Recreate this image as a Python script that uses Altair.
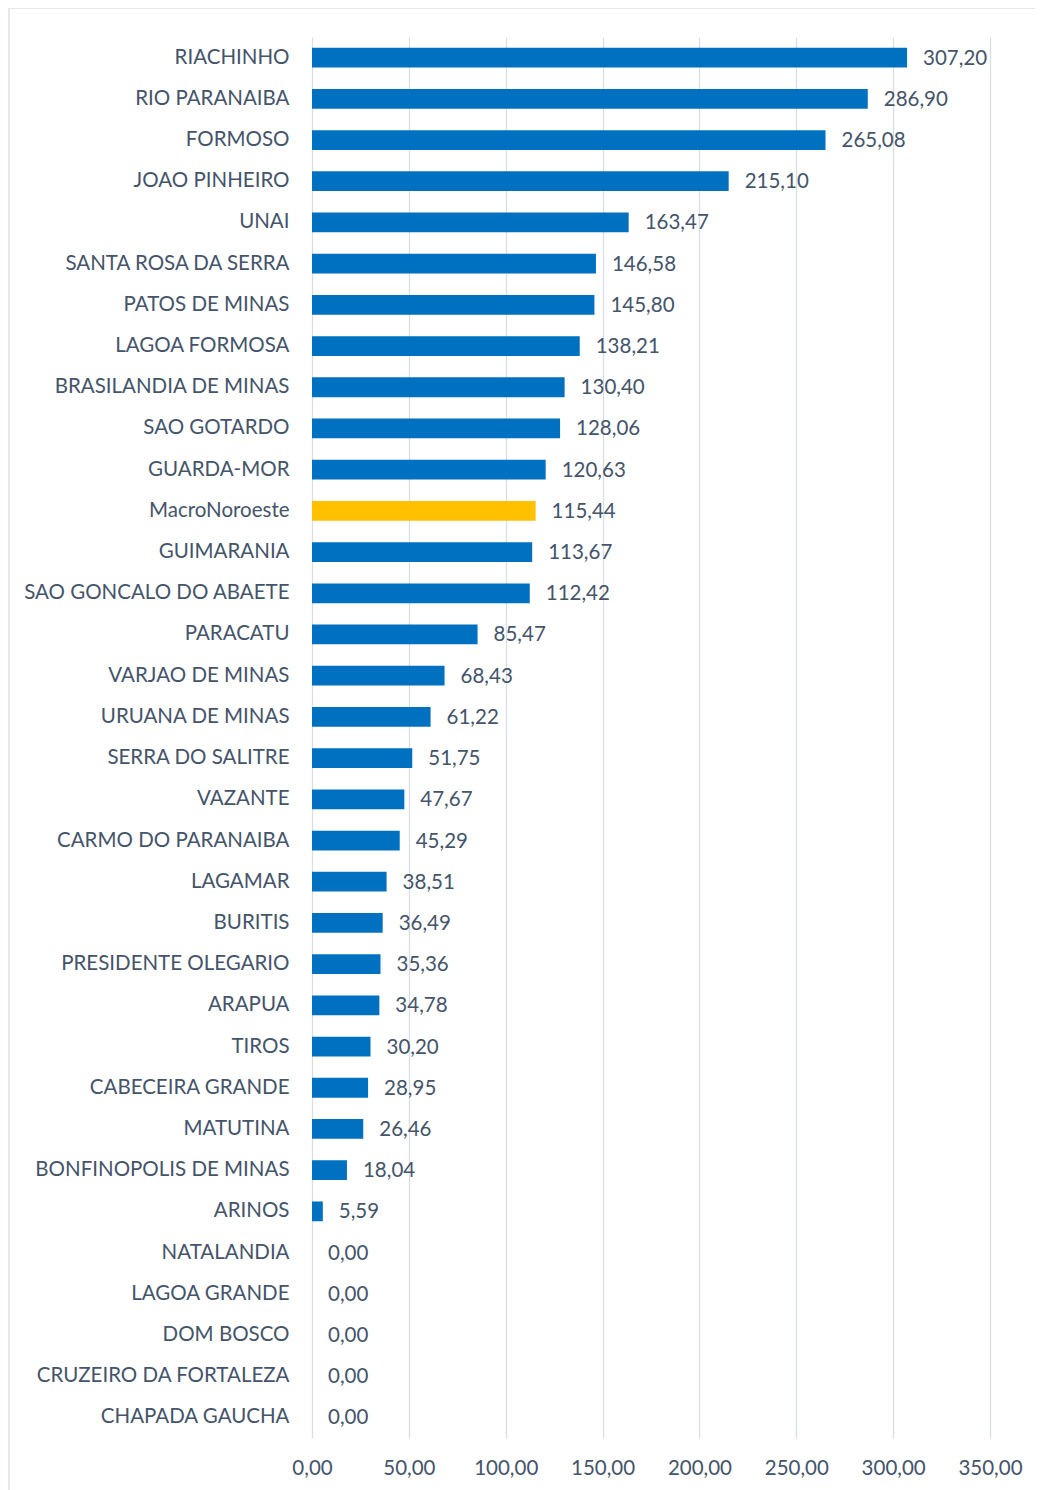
import altair as alt
import pandas as pd

municipios = [
    "RIACHINHO", "RIO PARANAIBA", "FORMOSO", "JOAO PINHEIRO", "UNAI",
    "SANTA ROSA DA SERRA", "PATOS DE MINAS", "LAGOA FORMOSA", "BRASILANDIA DE MINAS",
    "SAO GOTARDO", "GUARDA-MOR", "MacroNoroeste", "GUIMARANIA", "SAO GONCALO DO ABAETE",
    "PARACATU", "VARJAO DE MINAS", "URUANA DE MINAS", "SERRA DO SALITRE", "VAZANTE",
    "CARMO DO PARANAIBA", "LAGAMAR", "BURITIS", "PRESIDENTE OLEGARIO", "ARAPUA",
    "TIROS", "CABECEIRA GRANDE", "MATUTINA", "BONFINOPOLIS DE MINAS", "ARINOS",
    "NATALANDIA", "LAGOA GRANDE", "DOM BOSCO", "CRUZEIRO DA FORTALEZA", "CHAPADA GAUCHA",
]
valores = [
    307.20, 286.90, 265.08, 215.10, 163.47,
    146.58, 145.80, 138.21, 130.40,
    128.06, 120.63, 115.44, 113.67, 112.42,
    85.47, 68.43, 61.22, 51.75, 47.67,
    45.29, 38.51, 36.49, 35.36, 34.78,
    30.20, 28.95, 26.46, 18.04, 5.59,
    0.00, 0.00, 0.00, 0.00, 0.00,
]
destaque = "MacroNoroeste"
ticks_x = [0, 50, 100, 150, 200, 250, 300, 350]

df = pd.DataFrame({"municipio": municipios, "valor": valores})
df["grupo"] = ["macro" if m == destaque else "mun" for m in municipios]

FONT = "Lato"
FS = 20.5
TXT = "#44546A"

base = alt.Chart(df)

y_enc = alt.Y(
    "municipio:N", sort=municipios, title=None,
    scale=alt.Scale(paddingInner=0.52, paddingOuter=0.26),
    axis=alt.Axis(labelFont=FONT, labelFontSize=FS, labelColor=TXT, labelPadding=23,
                  ticks=False, domain=False, labelLimit=400),
)

bars = base.mark_bar().encode(
    x=alt.X("valor:Q", title=None,
            scale=alt.Scale(domain=[0, 350], nice=False),
            axis=alt.Axis(values=ticks_x, labelFont=FONT, labelFontSize=FS, labelColor=TXT,
                          labelPadding=20, ticks=False, domain=False, grid=True,
                          labelFlush=False, labelOverlap=False,
                          gridColor="#D9DEE4", gridWidth=1.3,
                          labelExpr="replace(format(datum.value, '.2f'), '.', ',')")),
    y=y_enc,
    color=alt.Color("grupo:N", scale=alt.Scale(domain=["mun", "macro"], range=["#0070C0", "#FFC000"]),
                    legend=None),
)

labels = base.mark_text(align="left", baseline="middle", dx=16, dy=1, font=FONT, fontSize=FS,
                        color=TXT).transform_calculate(
    rotulo="replace(format(datum.valor, '.2f'), '.', ',')"
).encode(
    x="valor:Q",
    y=alt.Y("municipio:N", sort=municipios),
    text="rotulo:N",
)

frame = alt.Chart(pd.DataFrame({"a": [0]})).mark_rect(
    fill=None, stroke="#DDE1E7", strokeWidth=1.5, clip=False
).encode(
    x=alt.value(-303), x2=alt.value(760), y=alt.value(-29), y2=alt.value(1500)
)

chart = alt.layer(frame, bars, labels).properties(
    width=678, height=1401,
    padding={"left": 304, "top": 29, "right": 45, "bottom": 60},
    autosize=alt.AutoSizeParams(type="none"),
    background="white",
).configure_view(stroke=None)

chart.save("out.html", embed_options={"renderer": "svg", "actions": False})
